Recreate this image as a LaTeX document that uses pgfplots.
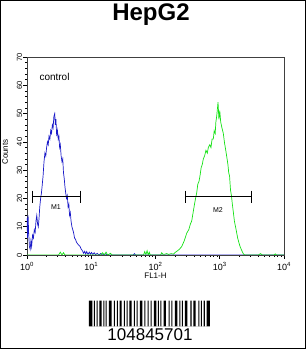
\documentclass[border=0pt]{standalone}
\usepackage{fontspec}
\setmainfont{Liberation Sans}
\usepackage{pgfplots}
\pgfplotsset{compat=1.18}
\definecolor{cblue}{RGB}{25,25,200}
\definecolor{cgreen}{RGB}{20,225,20}
\begin{document}
\begin{tikzpicture}[x=1pt,y=1pt]
\useasboundingbox (0,0) rectangle (306,349);
\draw[line width=1pt] (0.5,0.5) rectangle (305.5,348.5);
\node[font=\fontsize{24}{26}\selectfont\bfseries] at (151,334) {HepG2};
\begin{axis}[at={(27pt,94pt)}, anchor=south west, scale only axis,
  width=257pt, height=198pt,
  xmode=log, xmin=1, xmax=10000, ymin=0, ymax=70,
  xtick={1,10,100,1000,10000},
  xticklabels={10\textsuperscript{0},10\textsuperscript{1},10\textsuperscript{2},10\textsuperscript{3},10\textsuperscript{4}},
  ytick={0,10,...,70}, minor y tick num=4,
  tick align=outside, xtick pos=left, ytick pos=left,
  major tick length=4pt, minor tick length=2pt,
  axis line style={line width=0.8pt, black!75},
  tick style={black, line width=0.6pt},
  yticklabel shift=-0.5pt,
  yticklabel style={rotate=90, anchor=south, inner sep=1pt, font=\fontsize{7.5}{8}\selectfont, /pgf/number format/assume math mode=true},
  xticklabel style={font=\fontsize{9}{10}\selectfont},
  xlabel={FL1-H}, xlabel style={font=\fontsize{8}{9}\selectfont, yshift=5pt},
  ylabel={Counts}, ylabel style={font=\fontsize{8}{9}\selectfont, at={(axis description cs:-0.06,0.52)}, anchor=south},
]
\addplot[cblue, line width=0.7pt] coordinates {
(1.00,13)(1.02,6)(1.04,14)(1.06,8)(1.09,3)(1.12,2)(1.15,5)(1.18,3)(1.22,7)(1.26,6)
(1.30,9)(1.34,8)(1.38,12)(1.42,14)(1.46,11)(1.50,10)(1.54,13)(1.58,17)(1.63,20)(1.68,22)
(1.73,25)(1.78,28)(1.84,33)(1.90,36)(1.96,35)(2.02,38)(2.08,40)(2.14,39)(2.20,42)(2.27,41)
(2.34,44)(2.41,43)(2.48,46)(2.55,45)(2.62,49)(2.70,50)(2.76,46)(2.82,48)(2.90,42)(2.98,44)
(3.06,41)(3.14,42)(3.22,38)(3.30,39)(3.40,35)(3.50,33)(3.60,34)(3.70,29)(3.80,27)(3.90,24)
(4.00,22)(4.12,20)(4.24,21)(4.36,17)(4.48,18)(4.60,14)(4.72,15)(4.85,12)(5.00,10)(5.15,9)
(5.30,8)(5.50,6)(5.70,5.5)(5.90,4.5)(6.10,4)(6.40,3.5)(6.70,3)(7.00,2)(7.30,1.5)(7.60,0.6)
(7.90,1.3)(8.2,0.3)(8.5,1.2)(8.9,0.2)(9.3,1)(9.7,0.3)(10.1,0.9)(10.6,0.2)(11.1,0.8)(11.7,0.1)
(12.4,0.6)(13.2,0)(14,0.5)(15,0)(16.5,0.4)(18,0)(45,0)(47,0.5)(49,0)(10000,0)
};
\addplot[cgreen, line width=0.7pt] coordinates {
(1,0)(3.1,0)(3.3,1)(3.5,0)(3.7,0.8)(3.9,0)(14,0)(15,0.8)(16,0)(17,1)(18,0)(20,0.6)(21,0)
(65,0)(68,1.2)(71,0.2)(74,1.5)(77,0)(80,1)(83,0)(120,0)(125,0.8)(130,0.3)(140,0.3)(150,0.5)
(160,0.2)(175,0.5)(190,0.3)(205,1)(220,1.5)(235,2)(256,3)(280,5)(306,7.7)(330,9)(350,11)
(366,12)(385,15)(405,18)(420,20)(438,22)(455,25)(475,26)(493,28)(515,31)(535,32)(555,34)
(580,35)(610,37)(640,36)(664,38)(700,39)(730,38)(760,41)(794,41)(820,44)(850,43)(870,47)
(896,49)(940,54)(970,48)(1000,51)(1035,47)(1080,45)(1136,43)(1180,40)(1220,38)(1260,36)
(1300,34)(1340,32)(1380,29)(1420,28)(1470,23)(1520,21)(1570,18)(1630,15)(1690,12)(1760,10)
(1830,8)(1900,6)(1980,4.5)(2070,3)(2160,2)(2260,1)(2350,0.3)(2450,0)(4000,0)(4300,0.5)
(4600,0)(7000,0)(7300,0.4)(7600,0)(10000,0)
};
\addplot[black, line width=0.7pt, mark=|, mark size=6pt, mark options={line width=0.7pt}] coordinates {(1.21,20.6)(6.85,20.6)};
\addplot[black, line width=0.7pt, mark=|, mark size=6pt, mark options={line width=0.7pt}] coordinates {(295,20.6)(3143,20.6)};
\node[font=\fontsize{7}{8}\selectfont] at (axis cs:2.83,17) {M1};
\node[font=\fontsize{7}{8}\selectfont] at (axis cs:940,16) {M2};
\node[font=\fontsize{10}{11}\selectfont, anchor=west] at (axis cs:1.38,63) {control};
\end{axis}
\begin{axis}[at={(85pt,22.7pt)}, anchor=south west, scale only axis,
  width=133.3pt, height=25.6pt, hide axis, xmin=0, xmax=400, ymin=0, ymax=1]
\addplot[const plot, fill=black, draw=none] coordinates {
(12,1)(22,0)(27,1)(30,0)(35,1)(38,0)(43,1)(50,0)(55,1)(58,0)(62,1)(65,0)(72,1)(80,0)
(87,1)(90,0)(96,1)(99,0)(104,1)(110,0)(117,1)(120,0)(125,1)(128,0)(133,1)(140,0)
(147,1)(150,0)(155,1)(158,0)(165,1)(172,0)(178,1)(181,0)(188,1)(191,0)(197,1)(200,0)
(207,1)(214,0)(219,1)(222,0)(226,1)(229,0)(236,1)(243,0)(251,1)(254,0)(259,1)(262,0)
(270,1)(277,0)(283,1)(286,0)(291,1)(294,0)(300,1)(307,0)(316,1)(320,0)(325,1)(332,0)
(340,1)(343,0)(348,1)(351,0)(356,1)(360,0)(365,1)(375,0)
} \closedcycle;
\end{axis}
\node[font=\fontsize{17}{18}\selectfont] at (150,14) {104845701};
\end{tikzpicture}
\end{document}
